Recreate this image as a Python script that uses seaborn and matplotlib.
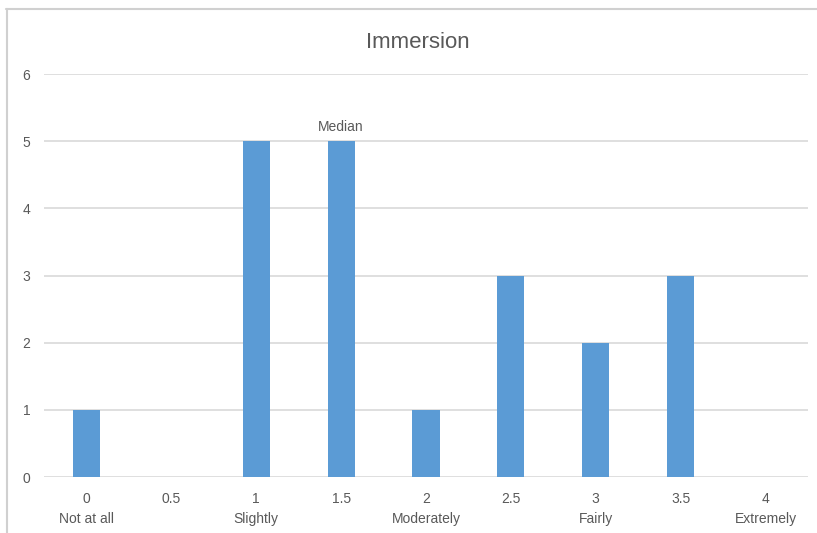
import matplotlib
matplotlib.use("Agg")
import matplotlib.pyplot as plt
import seaborn as sns
import pandas as pd
from matplotlib.lines import Line2D

scores = ["0", "0.5", "1", "1.5", "2", "2.5", "3", "3.5", "4"]
anchors = ["Not at all", "", "Slightly", "", "Moderately", "", "Fairly", "", "Extremely"]
counts = [1, 0, 5, 5, 1, 3, 2, 3, 0]
median_score = "1.5"

sns.set_theme(style="white")
plt.rcParams["font.family"] = ["Liberation Sans Narrow", "Liberation Sans", "DejaVu Sans"]

text_color = "#595959"
grid_color = "#D9D9D9"
bar_color = "#5B9BD5"

df = pd.DataFrame({"score": scores, "count": counts})

fig = plt.figure(figsize=(8.17, 5.33), dpi=100)
ax = fig.add_axes([0.0539, 0.105, 0.935, 0.756])

sns.barplot(data=df, x="score", y="count", color=bar_color, width=0.32,
            saturation=1, linewidth=0, ax=ax, zorder=3)

ax.set_ylim(0, 6)
ax.set_xlim(-0.5, len(scores) - 0.5)
ax.set_yticks(range(0, 7))
ax.yaxis.grid(True, color=grid_color, linewidth=1.2, zorder=0)
ax.set_axisbelow(True)
for s in ax.spines.values():
    s.set_visible(False)

ax.set_xticks(range(len(scores)))
ax.set_xticklabels([f"{s}\n{a}" for s, a in zip(scores, anchors)],
                   fontsize=10, color=text_color, linespacing=1.55)
ax.tick_params(axis="y", labelsize=10, labelcolor=text_color, length=0, pad=10)
ax.tick_params(axis="x", length=0, pad=11)
ax.set_xlabel("")
ax.set_ylabel("")

mi = scores.index(median_score)
ax.annotate("Median", xy=(mi, counts[mi]), xytext=(0, 5), textcoords="offset points",
            ha="center", va="bottom", fontsize=10, color=text_color)

fig.text(0.511, 0.921, "Immersion", ha="center", va="center", fontsize=16, color=text_color)

# outer chart frame (top and left edges)
fig.add_artist(Line2D([0.007, 1.0], [0.984, 0.984], transform=fig.transFigure,
                      color="#D0D0D0", linewidth=1.5))
fig.add_artist(Line2D([0.008, 0.008], [0.0, 0.984], transform=fig.transFigure,
                      color="#D0D0D0", linewidth=1.5))

fig.savefig("out.png", dpi=100, facecolor="white")
